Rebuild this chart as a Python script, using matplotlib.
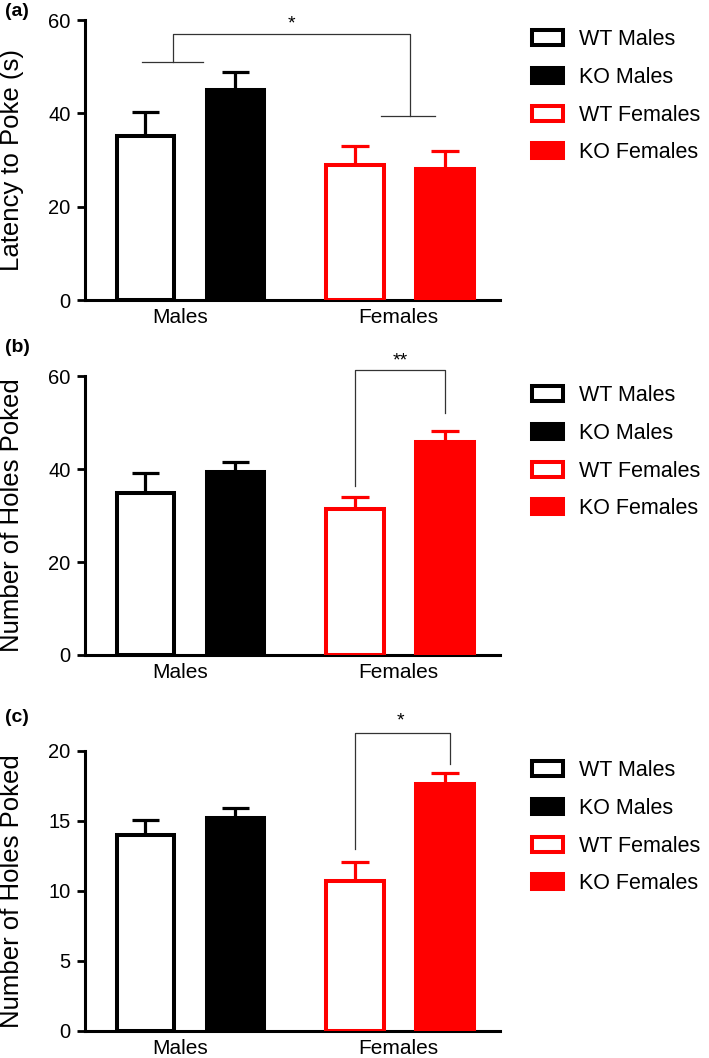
import numpy as np
import matplotlib
matplotlib.use("Agg")
import matplotlib.pyplot as plt
from matplotlib.patches import Patch

plt.rcParams['font.family'] = ['Liberation Sans', 'DejaVu Sans']

groups = ['WT Males', 'KO Males', 'WT Females', 'KO Females']
positions = [0, 1, 2.33, 3.33]
group_labels = ['Males', 'Females']

# panel (a) latency to poke
latency = [35.1, 44.9, 28.9, 28.0]
latency_err = [5.1, 4.0, 4.0, 4.0]
# panel (b) number of holes poked
holes_b = [34.8, 39.4, 31.3, 45.7]
holes_b_err = [4.4, 2.1, 2.6, 2.5]
# panel (c) number of holes poked
holes_c = [14.0, 15.2, 10.7, 17.65]
holes_c_err = [1.1, 0.7, 1.35, 0.75]

edge_colors = ['black', 'black', 'red', 'red']
face_colors = ['white', 'black', 'white', 'red']

fig = plt.figure(figsize=(7.09, 10.58), dpi=100)

W, H = 709, 1058
def px_axes(left, top, right, bottom):
    return fig.add_axes([left / W, 1 - bottom / H, (right - left) / W, (bottom - top) / H])

axes = [px_axes(85, 20, 500, 300), px_axes(85, 376, 500, 655), px_axes(85, 751, 500, 1031)]
data = [(latency, latency_err, 60, [0, 20, 40, 60], 'Latency to Poke (s)'),
        (holes_b, holes_b_err, 60, [0, 20, 40, 60], 'Number of Holes Poked'),
        (holes_c, holes_c_err, 20, [0, 5, 10, 15, 20], 'Number of Holes Poked')]

for ax, (vals, errs, ymax, ticks, ylab) in zip(axes, data):
    ax.bar(positions, vals, width=0.64, color=face_colors, edgecolor=edge_colors,
           linewidth=2.9, zorder=3)
    for x, v, e, c in zip(positions, vals, errs, edge_colors):
        ax.plot([x, x], [v, v + e], color=c, lw=2.3, zorder=2, solid_capstyle='butt')
        ax.plot([x - 0.155, x + 0.155], [v + e, v + e], color=c, lw=2.3, zorder=2,
                solid_capstyle='butt')
    ax.set_xlim(-0.672, 3.94)
    ax.set_ylim(0, ymax)
    ax.set_yticks(ticks)
    ax.set_xticks([0.38, 2.81])
    ax.set_xticklabels(group_labels)
    ax.tick_params(axis='x', length=0, labelsize=15, pad=6)
    ax.tick_params(axis='y', length=5.5, width=2.0, labelsize=14.5, pad=5)
    for s in ['top', 'right']:
        ax.spines[s].set_visible(False)
    for s in ['left', 'bottom']:
        ax.spines[s].set_linewidth(2.2)
    ax.set_ylabel(ylab, fontsize=18.5)
    ax.yaxis.set_label_coords(-0.147, 0.5)

    leg_handles = [Patch(facecolor=f, edgecolor=e, linewidth=2.9) for f, e in zip(face_colors, edge_colors)]
    pos = ax.get_position()
    ax.legend(leg_handles, groups, loc='upper left', bbox_to_anchor=(532 / W, pos.y1 - 9 / H),
              bbox_transform=fig.transFigure, frameon=False, fontsize=15.5,
              handlelength=1.45, handleheight=0.7, handletextpad=0.75, labelspacing=0.78,
              borderpad=0, borderaxespad=0)

fig.text(5 / W, 1 - 12 / H, '(a)', fontsize=14, fontweight='bold', va='center', ha='left')
fig.text(5 / W, 1 - 348 / H, '(b)', fontsize=14, fontweight='bold', va='center', ha='left')
fig.text(5 / W, 1 - 718 / H, '(c)', fontsize=14, fontweight='bold', va='center', ha='left')

br = dict(color='#333333', lw=0.9, clip_on=False)

# (a) males vs females
ax = axes[0]
ax.plot([-0.04, 0.64], [50.9, 50.9], **br)
ax.plot([2.62, 3.22], [39.4, 39.4], **br)
ax.plot([0.306, 0.306, 2.94, 2.94], [50.9, 57.1, 57.1, 39.4], **br)
ax.text((0.306 + 2.94) / 2, 57.3, '*', ha='center', va='bottom', fontsize=14)

# (b) WT vs KO females
ax = axes[1]
ax.plot([positions[2], positions[2], positions[3], positions[3]], [36.3, 61.3, 61.3, 52.0], **br)
ax.text((positions[2] + positions[3]) / 2, 61.5, '**', ha='center', va='bottom', fontsize=14)

# (c) WT vs KO females
ax = axes[2]
ax.plot([positions[2], positions[2], positions[3] + 0.05, positions[3] + 0.05], [12.98, 21.3, 21.3, 19.07], **br)
ax.text((positions[2] + positions[3]) / 2, 21.55, '*', ha='center', va='bottom', fontsize=14)

fig.savefig('out.png', dpi=100)
